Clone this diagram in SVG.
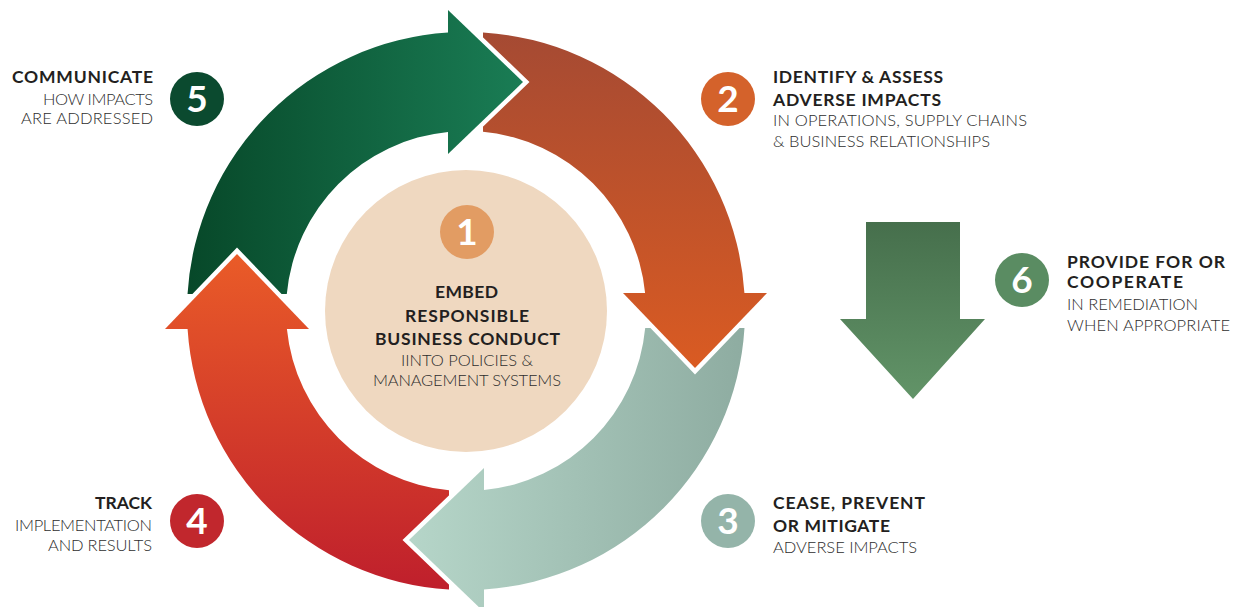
<svg xmlns="http://www.w3.org/2000/svg" width="1238" height="607" viewBox="0 0 1238 607">
  <defs>
    <style>
      .bold { font-family: Lato, "Liberation Sans", sans-serif; font-weight: 700; font-size: 17.5px; fill: #231f20; }
      .light { font-family: Lato, "Liberation Sans", sans-serif; font-weight: 300; font-size: 16.5px; fill: #2e2e2e; }
      .num { font-family: Lato, "Liberation Sans", sans-serif; font-weight: 700; font-size: 37px; fill: #ffffff; text-anchor: middle; }
      .halo { fill: none; stroke: #ffffff; stroke-width: 9; stroke-linejoin: miter; stroke-miterlimit: 10; }
    </style>
    <!-- one ring segment, drawn in a frame whose tail sits at the top -->
    <path id="seg" d="M17,-278.48 A279,279 0 0 1 278.42,-18 L301,-18 L229,57 L157,-18 L179.1,-18 A180,180 0 0 0 17,-179.2 Z"/>
    <path id="head" d="M301,-18 L229,57 L157,-18 Z"/>
    <polyline id="headEdge" points="301,-18 229,57 157,-18"/>
    <!-- gradients run from tail to head in each segment's own frame -->
    <linearGradient id="gOrange" gradientUnits="userSpaceOnUse" x1="0" y1="-279" x2="0" y2="60">
      <stop offset="0" stop-color="#a54a33"/>
      <stop offset="1" stop-color="#da5b22"/>
    </linearGradient>
    <linearGradient id="gSage" gradientUnits="userSpaceOnUse" x1="0" y1="-279" x2="0" y2="60">
      <stop offset="0" stop-color="#8eaca1"/>
      <stop offset="1" stop-color="#b6d6c9"/>
    </linearGradient>
    <linearGradient id="gRed" gradientUnits="userSpaceOnUse" x1="0" y1="-279" x2="0" y2="60">
      <stop offset="0" stop-color="#bf1f2c"/>
      <stop offset="1" stop-color="#ea5c28"/>
    </linearGradient>
    <linearGradient id="gGreen" gradientUnits="userSpaceOnUse" x1="0" y1="-279" x2="0" y2="60">
      <stop offset="0" stop-color="#074829"/>
      <stop offset="1" stop-color="#1a7d55"/>
    </linearGradient>
    <linearGradient id="gDown" x1="0" y1="0" x2="0" y2="1">
      <stop offset="0" stop-color="#466f4c"/>
      <stop offset="1" stop-color="#629468"/>
    </linearGradient>
  </defs>

  <rect width="1238" height="607" fill="#ffffff"/>

  <!-- cycle of four curved arrows around the centre -->
  <g id="connectors">
    <g transform="translate(466,311)">
      <use href="#seg" fill="url(#gOrange)"/>
      <use href="#seg" fill="url(#gSage)" transform="rotate(90)"/>
      <use href="#seg" fill="url(#gRed)" transform="rotate(180)"/>
      <use href="#seg" fill="url(#gGreen)" transform="rotate(270)"/>
      <!-- heads on top, with a white edge cutting into the next tail -->
      <g>
        <use href="#headEdge" class="halo"/>
        <use href="#head" fill="url(#gOrange)"/>
      </g>
      <g transform="rotate(90)">
        <use href="#headEdge" class="halo"/>
        <use href="#head" fill="url(#gSage)"/>
      </g>
      <g transform="rotate(180)">
        <use href="#headEdge" class="halo"/>
        <use href="#head" fill="url(#gRed)"/>
      </g>
      <g transform="rotate(270)">
        <use href="#headEdge" class="halo"/>
        <use href="#head" fill="url(#gGreen)"/>
      </g>
    </g>
    <path id="arrow-down" d="M866,222 L960,222 L960,319 L985,319 L913,399 L840,319 L866,319 Z" fill="url(#gDown)"/>
  </g>

  <!-- step 1: centre -->
  <g id="step1">
    <circle cx="466" cy="311" r="141" fill="#efd8c0"/>
    <circle cx="467" cy="232" r="27" fill="#e29c63"/>
    <text class="num" x="467" y="245">1</text>
    <text class="bold" x="435" y="298" textLength="63" lengthAdjust="spacing">EMBED</text>
    <text class="bold" x="405" y="322" textLength="124" lengthAdjust="spacing">RESPONSIBLE</text>
    <text class="bold" x="375" y="345" textLength="185" lengthAdjust="spacing">BUSINESS CONDUCT</text>
    <text class="light" x="401" y="366" textLength="132" lengthAdjust="spacing">IINTO POLICIES &amp;</text>
    <text class="light" x="373" y="386" textLength="188" lengthAdjust="spacing">MANAGEMENT SYSTEMS</text>
  </g>

  <!-- step 2 -->
  <g id="step2">
    <circle cx="728" cy="99" r="27" fill="#d4622b"/>
    <text class="num" x="728" y="112">2</text>
    <text class="bold" x="773" y="83" textLength="170" lengthAdjust="spacing">IDENTIFY &amp; ASSESS</text>
    <text class="bold" x="773" y="106" textLength="168" lengthAdjust="spacing">ADVERSE IMPACTS</text>
    <text class="light" x="773" y="126" textLength="254" lengthAdjust="spacing">IN OPERATIONS, SUPPLY CHAINS</text>
    <text class="light" x="773" y="147" textLength="217" lengthAdjust="spacing">&amp; BUSINESS RELATIONSHIPS</text>
  </g>

  <!-- step 3 -->
  <g id="step3">
    <circle cx="728" cy="521" r="27" fill="#94b4a9"/>
    <text class="num" x="728" y="534">3</text>
    <text class="bold" x="773" y="509" textLength="152" lengthAdjust="spacing">CEASE, PREVENT</text>
    <text class="bold" x="773" y="532" textLength="117" lengthAdjust="spacing">OR MITIGATE</text>
    <text class="light" x="773" y="553" textLength="144" lengthAdjust="spacing">ADVERSE IMPACTS</text>
  </g>

  <!-- step 4 -->
  <g id="step4">
    <circle cx="197" cy="521" r="27" fill="#c1272d"/>
    <text class="num" x="197" y="534">4</text>
    <text class="bold" x="95" y="509" textLength="57" lengthAdjust="spacing">TRACK</text>
    <text class="light" x="15" y="531" textLength="137" lengthAdjust="spacing">IMPLEMENTATION</text>
    <text class="light" x="48" y="551" textLength="104" lengthAdjust="spacing">AND RESULTS</text>
  </g>

  <!-- step 5 -->
  <g id="step5">
    <circle cx="197" cy="99" r="27" fill="#0b4a2f"/>
    <text class="num" x="197" y="112">5</text>
    <text class="bold" x="12" y="83" textLength="141" lengthAdjust="spacing">COMMUNICATE</text>
    <text class="light" x="43" y="105" textLength="110" lengthAdjust="spacing">HOW IMPACTS</text>
    <text class="light" x="21" y="124" textLength="132" lengthAdjust="spacing">ARE ADDRESSED</text>
  </g>

  <!-- step 6 -->
  <g id="step6">
    <circle cx="1022" cy="280" r="27" fill="#5a8c62"/>
    <text class="num" x="1022" y="293">6</text>
    <text class="bold" x="1067" y="268" textLength="158" lengthAdjust="spacing">PROVIDE FOR OR</text>
    <text class="bold" x="1067" y="288" textLength="116" lengthAdjust="spacing">COOPERATE</text>
    <text class="light" x="1067" y="310" textLength="131" lengthAdjust="spacing">IN REMEDIATION</text>
    <text class="light" x="1067" y="331" textLength="163" lengthAdjust="spacing">WHEN APPROPRIATE</text>
  </g>
</svg>
